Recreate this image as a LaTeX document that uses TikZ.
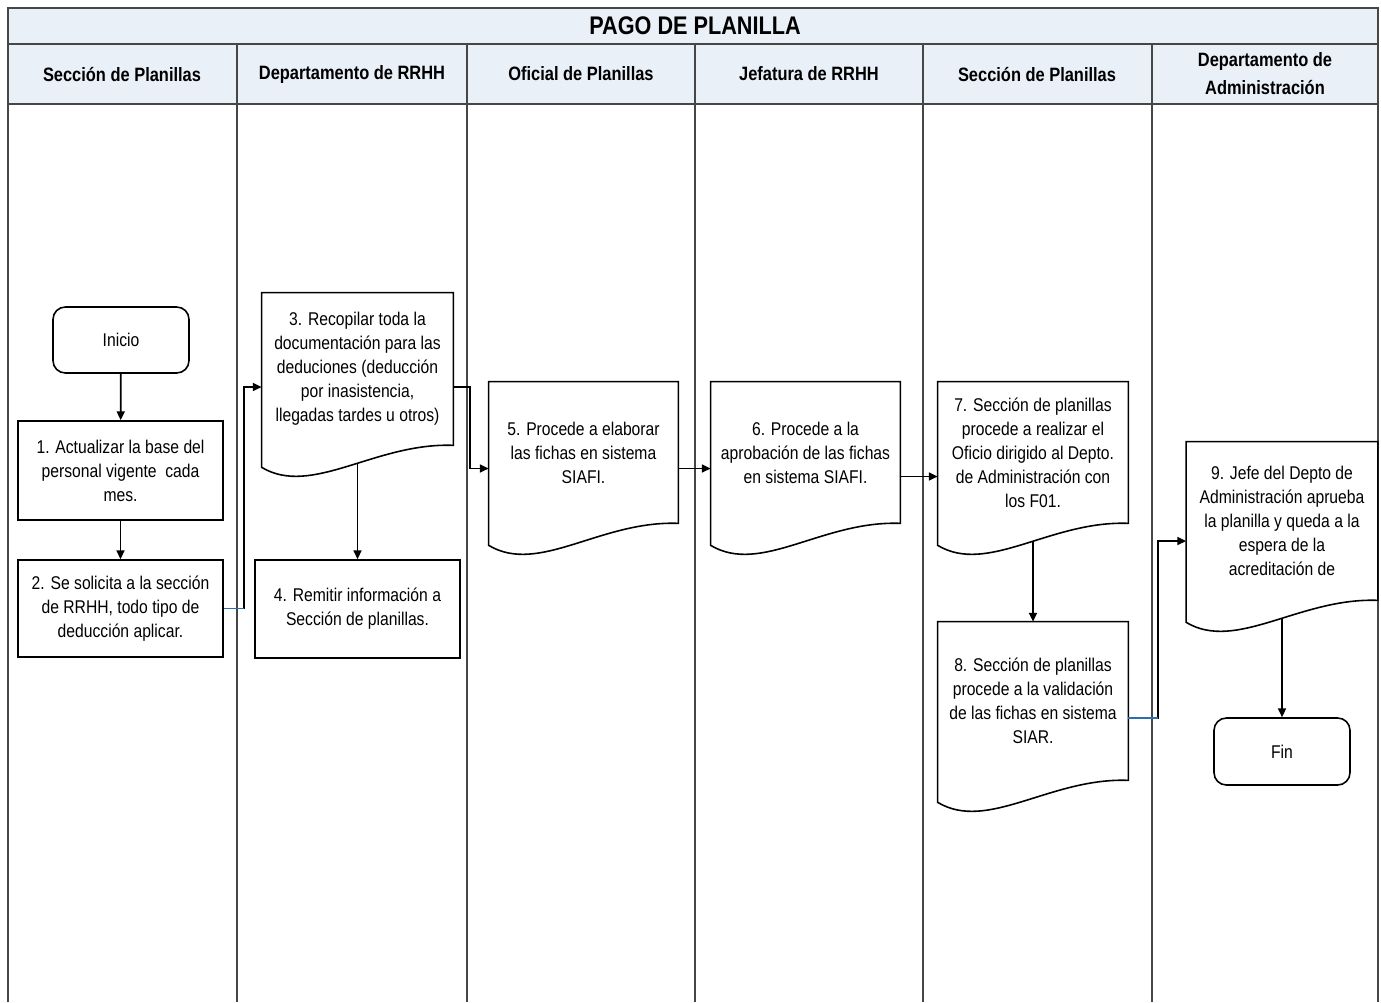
\documentclass[tikz,border=0pt]{standalone}
\usepackage{fontspec}
\setmainfont{Liberation Sans}[FakeStretch=0.85]
\usetikzlibrary{arrows.meta,calc}
\definecolor{hdr}{RGB}{234,240,248}
\definecolor{framec}{RGB}{70,70,70}
\definecolor{wire}{RGB}{45,110,175}
\begin{document}
\begin{tikzpicture}[x=0.02cm,y=-0.02cm,
  lane/.style={draw=framec,line width=0.8pt},
  hdrtext/.style={font=\fontsize{11}{16}\selectfont\bfseries,align=center,inner sep=0},
  titletext/.style={font=\fontsize{14.5}{16}\selectfont\bfseries,inner sep=0},
  proc/.style={draw,line width=0.9pt,align=center,inner sep=0,font=\fontsize{10.5}{13.6}\selectfont},
  term/.style={proc,rounded corners=7pt},
  docn/.style={align=center,inner sep=0,font=\fontsize{10.5}{13.6}\selectfont},
  docline/.style={draw,line width=0.9pt},
  conn/.style={draw,line width=1pt,-{Triangle[length=5pt,width=4.5pt]}},
]
\newcommand\docoutline[1]{%
  \draw[docline] (#1.north west) -- (#1.north east) -- (#1.south east)
    .. controls ($(#1.south east)+(-78,-3)$) and ($(#1.south west)+(50,52)$) .. ($(#1.south west)+(0,22)$) -- cycle;
  \coordinate (#1b) at ($(#1.south)+(0,19)$);}
\useasboundingbox (0,0) rectangle (1381,1002);
% header band
\fill[hdr] (8,8) rectangle (1378,104);
\draw[lane] (8,1002) -- (8,8) -- (1378,8) -- (1378,1002);
\draw[lane] (8,44) -- (1378,44);
\draw[lane] (8,104) -- (1378,104);
\foreach \xx in {237,467,695,923,1152} \draw[lane] (\xx,44) -- (\xx,1002);
\node[titletext] (title) at (695,26) {PAGO DE PLANILLA};
\node[hdrtext] (h1) at (122,74) {Sección de Planillas};
\node[hdrtext] (h2) at (352,74) {Departamento de RRHH};
\node[hdrtext] (h3) at (581,74) {Oficial de Planillas};
\node[hdrtext] (h4) at (809,74) {Jefatura de RRHH};
\node[hdrtext] (h5) at (1037,74) {Sección de Planillas};
\node[hdrtext] (h6) at (1265,74) {Departamento de\\Administración};
% nodes
\node[term,minimum width=2.72cm,minimum height=1.32cm] (ini) at (121,340) {Inicio};
\node[proc,minimum width=4.1cm,minimum height=1.98cm] (n1) at (120.5,470.5) {1. Actualizar la base del\\personal vigente\ \ cada\\mes.};
\node[proc,minimum width=4.1cm,minimum height=1.94cm] (n2) at (120.5,608.5) {2. Se solicita a la sección\\de RRHH, todo tipo de\\deducción aplicar.};
\node[docn,minimum width=3.82cm,minimum height=3.04cm] (n3) at (357.5,369) {3. Recopilar toda la\\documentación para las\\deduciones (deducción\\por inasistencia,\\llegadas tardes u otros)};
\node[proc,minimum width=4.1cm,minimum height=1.96cm] (n4) at (357.5,609) {4. Remitir información a\\Sección de planillas.};
\node[docn,minimum width=3.78cm,minimum height=2.82cm] (n5) at (583.5,452.5) {5. Procede a elaborar\\las fichas en sistema\\SIAFI.};
\node[docn,minimum width=3.78cm,minimum height=2.82cm] (n6) at (805.5,452.5) {6. Procede a la\\aprobación de las fichas\\en sistema SIAFI.};
\node[docn,minimum width=3.8cm,minimum height=2.82cm] (n7) at (1033,452.5) {7. Sección de planillas\\procede a realizar el\\Oficio dirigido al Depto.\\de Administración con\\los F01.};
\node[docn,minimum width=3.8cm,minimum height=3.16cm] (n8) at (1033,701) {8. Sección de planillas\\procede a la validación\\de las fichas en sistema\\SIAR.};
\node[docn,minimum width=3.82cm,minimum height=3.16cm] (n9) at (1282,521) {9. Jefe del Depto de\\Administración aprueba\\la planilla y queda a la\\espera de la\\acreditación de};
\node[term,minimum width=2.72cm,minimum height=1.34cm] (fin) at (1282,751.5) {Fin};
\docoutline{n3}
\docoutline{n5}
\docoutline{n6}
\docoutline{n7}
\docoutline{n8}
\docoutline{n9}
% connectors
\draw[conn] (ini) -- (n1);
\draw[conn] (n1) -- (n2);
\draw[conn] (n2.east) -- ++(20,0) |- ($(n3.west)+(0,18)$);
\draw[wire,line width=1pt] (n2.east) -- ++(20,0);
\draw[conn] ($(n3.east)+(0,18)$) -- ++(17,0) |- ($(n5.west)+(0,16)$);
\draw[conn] (n3b) -- (n4);
\draw[conn] ($(n5.east)+(0,16)$) -- ($(n6.west)+(0,16)$);
\draw[conn] ($(n6.east)+(0,24)$) -- ($(n7.west)+(0,24)$);
\draw[conn] (n7b) -- (n8);
\draw[conn] ($(n8.east)+(0,17)$) -- ++(30,0) |- ($(n9.west)+(0,20)$);
\draw[wire,line width=1pt] ($(n8.east)+(0,17)$) -- ++(30,0);
\draw[conn] (n9b) -- (fin);
\end{tikzpicture}
\end{document}
